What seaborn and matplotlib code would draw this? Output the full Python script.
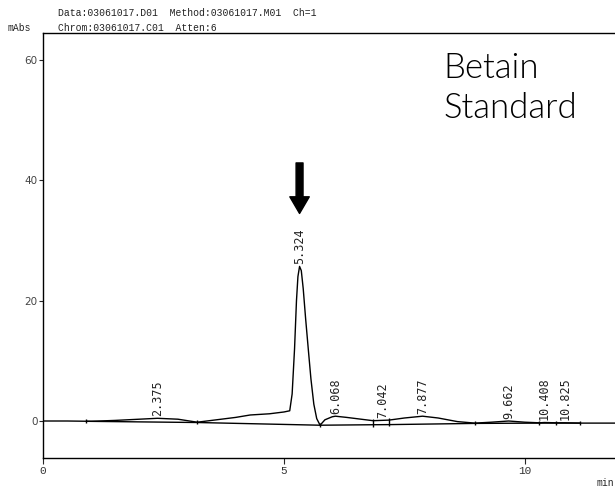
import matplotlib
matplotlib.use("Agg")
import matplotlib.pyplot as plt
import seaborn as sns
import numpy as np
import pandas as pd

# chromatogram trace (min, mAbs)
time_min = [0.0, 0.5, 1.0, 1.5, 2.0, 2.375, 2.8, 3.2, 3.6, 4.0, 4.3, 4.7, 5.0, 5.12,
            5.17, 5.22, 5.26, 5.29, 5.324, 5.36, 5.40, 5.45, 5.51, 5.56, 5.62, 5.68,
            5.75, 5.85, 6.0, 6.068, 6.3, 6.6, 6.85, 7.18, 7.5, 7.877, 8.2, 8.6, 8.96,
            9.3, 9.662, 10.0, 10.3, 10.408, 10.65, 10.825, 11.14, 11.5, 11.9]
signal = [0.0, 0.0, -0.05, 0.1, 0.3, 0.45, 0.3, -0.2, 0.2, 0.6, 1.0, 1.2, 1.5, 1.7,
          4.5, 12.0, 20.0, 24.0, 25.7, 25.0, 22.0, 17.0, 11.5, 7.0, 2.8, 0.4,
          -0.7, 0.2, 0.7, 0.8, 0.6, 0.3, 0.05, 0.15, 0.5, 0.8, 0.5, -0.1, -0.35,
          -0.2, 0.0, -0.2, -0.3, -0.25, -0.3, -0.3, -0.35, -0.35, -0.35]

# integration baseline and its marks
base_t = [0.9, 3.2, 5.75, 6.85, 7.18, 8.96, 10.3, 10.65, 11.14]
base_y = [-0.05, -0.25, -0.7, -0.62, -0.6, -0.4, -0.35, -0.35, -0.35]
mark_top = [0.0, -0.2, -0.7, 0.05, 0.15, -0.35, -0.3, -0.3, -0.35]

# peak labels
peak_t = [2.375, 5.324, 6.068, 7.042, 7.877, 9.662, 10.408, 10.825]
peak_h = [0.45, 25.7, 0.8, 0.1, 0.8, 0.0, -0.25, -0.3]
peak_lbl = ["2.375", "5.324", "6.068", "7.042", "7.877", "9.662", "10.408", "10.825"]

sns.set_style("ticks")
plt.rcParams["font.family"] = ["DejaVu Sans"]

fig = plt.figure(figsize=(6.15, 4.88), dpi=100)
ax = fig.add_axes([43 / 615, 30 / 488, 1 - 43 / 615, 425 / 488])

df = pd.DataFrame({"t": time_min, "y": signal})
sns.lineplot(data=df, x="t", y="y", ax=ax, color="black", linewidth=1.0, estimator=None)
dfb = pd.DataFrame({"t": base_t, "y": base_y})
sns.lineplot(data=dfb, x="t", y="y", ax=ax, color="black", linewidth=1.0, estimator=None)
ax.vlines(base_t, np.array(base_y) - 0.3, np.array(mark_top) + 0.3, color="black", linewidth=1.0)

for t, h, s in zip(peak_t, peak_h, peak_lbl):
    ax.text(t, h + 0.4, s, rotation=90, ha="center", va="bottom",
            family="DejaVu Sans Mono", fontsize=8.5, color="#222222")

# arrow above main peak
imax = int(np.argmax(peak_h))
ax.annotate("", xy=(peak_t[imax], peak_h[imax] + 8.8), xytext=(peak_t[imax], peak_h[imax] + 17.2),
            arrowprops=dict(arrowstyle="simple,head_length=1.2,head_width=1.4,tail_width=0.5",
                            color="black", shrinkA=0, shrinkB=0))

ax.text(0.70, 0.955, "Betain\nStandard", transform=ax.transAxes, ha="left", va="top",
        family="Lato", fontweight=300, fontsize=25, linespacing=1.3, color="black")

ax.set_xlim(0, 11.87)
ax.set_ylim(-6.15, 64.5)
ax.set_xticks([0, 5, 10])
ax.set_yticks([0, 20, 40, 60])
ax.set_xlabel("")
ax.set_ylabel("")
ax.tick_params(axis="y", length=3, width=0.8, labelsize=7.5, labelcolor="#444444", pad=1)
ax.tick_params(axis="x", length=4, width=0.8, labelsize=8, labelcolor="#333333", pad=2)
for lab in ax.get_xticklabels():
    lab.set_family("Liberation Mono")
ax.spines["right"].set_visible(False)
for s in ["left", "top", "bottom"]:
    ax.spines[s].set_linewidth(1.0)
    ax.spines[s].set_color("black")

fig.text(58 / 615, 1 - 13 / 488, "Data:03061017.D01  Method:03061017.M01  Ch=1",
         family="Liberation Mono", fontsize=7, va="center", color="#222222")
fig.text(58 / 615, 1 - 28 / 488, "Chrom:03061017.C01  Atten:6",
         family="Liberation Mono", fontsize=7, va="center", color="#222222")
fig.text(8 / 615, 1 - 28 / 488, "mAbs", family="Liberation Mono", fontsize=7,
         va="center", color="#222222")
fig.text(597 / 615, 1 - 483 / 488, "min", family="Liberation Mono", fontsize=7,
         va="center", color="#222222")

fig.savefig("out.png", dpi=100)
